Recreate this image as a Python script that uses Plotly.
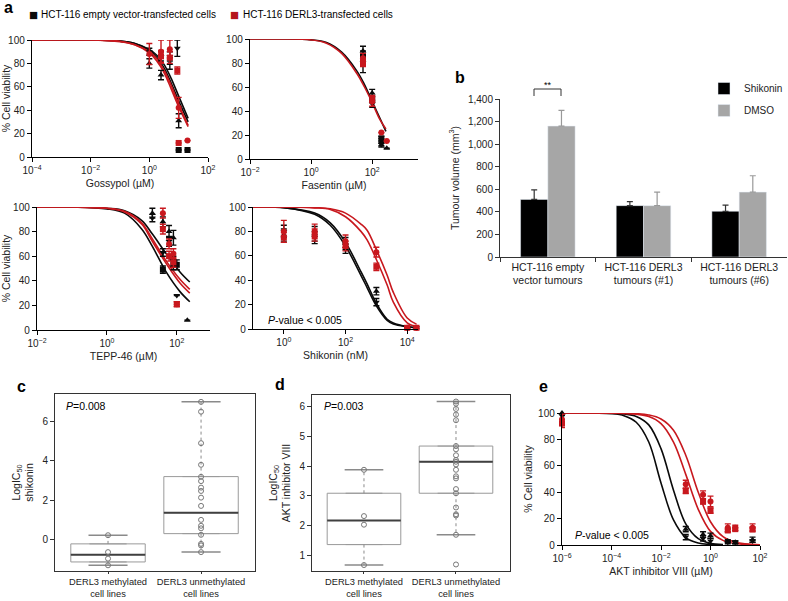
import plotly.graph_objects as go

W, H = 788, 601
RED = "#c8181e"
BLACK = "#0a0a0a"
GREY = "#a6a6a6"
FONT = "Arial, Liberation Sans, Helvetica, sans-serif"

BLACK_SYMS = ["triangle-up", "triangle-down", "square", "diamond"]
RED_SYMS = ["circle", "square", "triangle-up"]

# ---------- a: dose response, % cell viability (mean, s.d.) ----------
# Gossypol (uM)
goss_fit_x = [1e-4, 0.01, 0.1, 0.32, 1, 1.8, 3.2, 5.6, 10, 21]
goss_fit_black = [[100, 100, 99, 97, 92, 87, 79, 67, 52, 33],
                  [100, 100, 99, 97, 91, 85, 76, 63, 48, 30]]
goss_fit_red = [[100, 100, 99, 96, 90, 84, 74, 61, 45, 27],
                [100, 100, 98.5, 96, 89, 82, 72, 58, 43, 26]]
goss_black = [([1, 2.5, 5, 10], [80, 70, 80, 31], [4, 4, 5, 6]),
              ([1, 2.5, 5, 9], [90, 86, 86, 93], [3, 4, 4, 7]),
              ([10, 20], [6, 6], [0, 0])]
goss_red = [([1, 2.5, 5, 10, 20], [88, 90, 92, 42, 14], [9, 10, 8, 9, 0]),
            ([2.5, 5, 9, 10], [86, 85, 74, 12], [5, 5, 3, 0])]

# Fasentin (uM)
fas_fit_x = [0.01, 0.1, 1, 3.2, 10, 32, 56, 100, 178, 282]
fas_fit_black = [[100, 100, 99.3, 97, 89, 73, 62, 48, 34, 23]]
fas_fit_red = [[100, 100, 99.2, 96.5, 88, 71, 60, 47, 33, 25]]
fas_black = [([50, 100, 200, 300], [90, 55, 14, 9], [4, 3, 3, 0]),
             ([50, 100, 200], [80, 46, 12], [8, 3, 2]),
             ([50, 100, 200], [86, 50, 17], [4, 3, 2])]
fas_red = [([50, 100, 200, 300], [84, 48, 22, 15], [4, 4, 0, 0]),
           ([50, 100], [80, 50], [3, 3])]

# TEPP-46 (uM)
tepp_fit_x = [0.01, 0.1, 1, 3.2, 10, 20, 50, 125, 235]
tepp_fit_black = [[100, 100, 99, 97, 89, 78, 62, 47, 39],
                  [100, 100, 98.5, 95, 82, 68, 47, 31, 23]]
tepp_fit_red = [[100, 100, 99, 96, 86, 72, 54, 38, 30],
                [100, 100, 99, 96.5, 87, 74, 56, 41, 33]]
tepp_black = [([20, 40, 60, 80, 200], [95, 88, 80, 75, 8], [4, 4, 5, 6, 0]),
              ([20, 40, 60, 80, 100], [91, 63, 72, 56, 28], [3, 3, 4, 4, 0]),
              ([40, 80, 100], [49, 53, 53], [3, 4, 4])]
tepp_red = [([40, 60, 80, 100], [95, 70, 62, 21], [4, 4, 4, 2]),
            ([40, 60, 80, 100], [82, 60, 55, 21], [4, 4, 4, 2])]

# Shikonin (nM)
shik_fit_x = [0.1, 1, 10, 32, 100, 316, 500, 1000, 2240, 3550, 10000, 20000]
shik_fit_black = [[100, 99.5, 95, 87, 71, 47, 37, 21, 8, 5, 2, 1],
                  [100, 99.5, 94, 85, 68, 44, 34, 19, 7, 4, 1.8, 1]]
shik_fit_red = [[100, 100, 99.5, 98.5, 95, 86, 81, 65, 44, 30, 9, 4],
                [100, 100, 99.3, 98, 92, 80, 73, 57, 36, 22, 5, 2]]
shik_conc = [1, 10, 100, 1000, 10000, 20000]
shik_black = [(shik_conc, [77, 78, 70, 31, 1, 1], [5, 6, 5, 3, 1, 1]),
              (shik_conc, [80, 75, 66, 22, 1, 1], [5, 5, 4, 3, 1, 1])]
shik_red = [(shik_conc, [80, 80, 72, 63, 1, 1], [9, 6, 5, 4, 1, 1]),
            (shik_conc, [75, 77, 68, 51, 1, 1], [4, 5, 4, 3, 1, 1])]

# ---------- b: xenograft tumour volume (mm3) ----------
b_groups = ["HCT-116 empty<br>vector tumours", "HCT-116 DERL3<br>tumours (#1)",
            "HCT-116 DERL3<br>tumours (#6)"]
b_shikonin = [510, 455, 405]
b_shikonin_err = [85, 35, 55]
b_dmso = [1160, 455, 575]
b_dmso_err = [140, 120, 145]

# ---------- c / d: LogIC50 by DERL3 methylation ----------
box_labels = ["DERL3 methylated<br>cell lines", "DERL3 unmethylated<br>cell lines"]
c_meth = [0.22, -0.64, -0.97, -1.31]
c_unmeth = [7.0, 6.5, 4.9, 3.8, 3.19, 2.97, 2.64, 2.47, 2.13, 1.71, 1.0, 0.7,
            0.57, 0.24, -0.22, -0.3, -0.64]
c_q1, c_med, c_q3 = [-1.14, 0.3], [-0.77, 1.36], [-0.22, 3.2]
c_lo, c_hi = [-1.31, -0.64], [0.22, 7.0]

d_meth = [3.88, 2.32, 2.03, 0.67]
d_unmeth = [6.18, 6.11, 5.93, 5.74, 5.55, 4.68, 4.57, 4.37, 4.21, 4.15, 4.06,
            3.88, 3.66, 3.59, 3.23, 3.09, 2.61, 2.38, 2.34, 1.69, 0.69]
d_q1, d_med, d_q3 = [1.36, 3.09], [2.17, 4.15], [3.09, 4.68]
d_lo, d_hi = [0.67, 1.69], [3.88, 6.18]

# ---------- e: AKT inhibitor VIII (uM) ----------
akt_fit_x = [1e-6, 1e-4, 3.2e-4, 1e-3, 3.2e-3, 0.01, 0.032, 0.1, 0.32, 1, 3.2, 10, 100]
akt_fit_black = [[100, 99.5, 98, 93, 78, 47, 19, 5.6, 1.5, 0.4, 0.1],
                 [100, 99.8, 99.3, 97.4, 91, 73, 41.5, 16, 4.8, 1.3, 0.35]]
akt_fit_red = [[100, 99.9, 99.7, 99.1, 97.3, 92, 78, 53.5, 27, 10.3, 3.5, 1.1, 0.1],
               [100, 100, 99.8, 99.5, 98.5, 95.5, 87, 68, 40, 17.6, 6.3, 2.1, 0.2]]
akt_conc = [1e-6, 0.1, 0.5, 1, 5, 10, 50]
akt_black = [(akt_conc, [100, 12, 8, 7, 3, 2, 4], [2, 2, 2, 2, 1, 1, 2]),
             (akt_conc, [98, 6, 5, 3, 2, 2, 3], [6, 2, 2, 2, 1, 1, 1])]
akt_red = [(akt_conc, [95, 46, 38, 33, 13, 13, 13], [4, 3, 3, 4, 3, 2, 3]),
           (akt_conc, [92, 41, 33, 26, 11, 12, 12], [3, 2, 2, 2, 1, 1, 1])]

key_labels = ["HCT-116 empty vector-transfected cells", "HCT-116 DERL3-transfected cells"]


fig = go.Figure()


def ids(n):
    return ("x", "y") if n == 1 else (f"x{n}", f"y{n}")


def add_dose(n, fit_x, fit_black, fit_red, pts_black, pts_red):
    xa, ya = ids(n)
    for col, fits in [(BLACK, fit_black), (RED, fit_red)]:
        for ys in fits:
            fig.add_trace(go.Scatter(
                x=fit_x[:len(ys)], y=ys, mode="lines",
                line=dict(color=col, width=1.6, shape="spline", smoothing=1),
                xaxis=xa, yaxis=ya, cliponaxis=False, showlegend=False, hoverinfo="skip"))
    for col, syms, series in [(BLACK, BLACK_SYMS, pts_black), (RED, RED_SYMS, pts_red)]:
        for (x, y, e), s in zip(series, syms):
            fig.add_trace(go.Scatter(
                x=x, y=y, mode="markers",
                marker=dict(symbol=s, size=6, color=col),
                error_y=dict(type="data", array=e, color=col, thickness=1.4, width=3),
                xaxis=xa, yaxis=ya, cliponaxis=False, showlegend=False))


add_dose(1, goss_fit_x, goss_fit_black, goss_fit_red, goss_black, goss_red)
add_dose(2, fas_fit_x, fas_fit_black, fas_fit_red, fas_black, fas_red)
add_dose(3, tepp_fit_x, tepp_fit_black, tepp_fit_red, tepp_black, tepp_red)
add_dose(4, shik_fit_x, shik_fit_black, shik_fit_red, shik_black, shik_red)
add_dose(8, akt_fit_x, akt_fit_black, akt_fit_red, akt_black, akt_red)

# b: bars
fig.add_trace(go.Bar(x=b_groups, y=b_shikonin, name="Shikonin", marker_color="black",
                     error_y=dict(type="data", array=b_shikonin_err, arrayminus=[0] * 3,
                                  symmetric=False, color="#333", thickness=1.2, width=3),
                     xaxis="x5", yaxis="y5", legend="legend2", legendgroup="s"))
fig.add_trace(go.Bar(x=b_groups, y=b_dmso, name="DMSO", marker_color=GREY,
                     error_y=dict(type="data", array=b_dmso_err, arrayminus=[0] * 3,
                                  symmetric=False, color="#999", thickness=1.2, width=3),
                     xaxis="x5", yaxis="y5", legend="legend2", legendgroup="d"))


def add_boxes(n, groups, q1, med, q3, lo, hi):
    xa, ya = ids(n)
    pos = list(range(len(groups)))
    fig.add_trace(go.Box(x=pos, q1=q1, median=med, q3=q3, lowerfence=q1, upperfence=q3,
                         width=0.8, line=dict(color="#9a9a9a", width=1),
                         fillcolor="rgba(255,255,255,0)", boxpoints=False,
                         xaxis=xa, yaxis=ya, showlegend=False, hoverinfo="skip"))
    wx, wy, cx, cy, mx, my = [], [], [], [], [], []
    for i in pos:
        wx += [i, i, None, i, i, None]
        wy += [q3[i], hi[i], None, q1[i], lo[i], None]
        cx += [i - 0.21, i + 0.21, None, i - 0.21, i + 0.21, None]
        cy += [hi[i], hi[i], None, lo[i], lo[i], None]
        mx += [i - 0.4, i + 0.4, None]
        my += [med[i], med[i], None]
    fig.add_trace(go.Scatter(x=wx, y=wy, mode="lines", line=dict(color="#8a8a8a", width=1, dash="dot"),
                             xaxis=xa, yaxis=ya, showlegend=False, hoverinfo="skip"))
    fig.add_trace(go.Scatter(x=cx, y=cy, mode="lines", line=dict(color="#8a8a8a", width=1.5),
                             xaxis=xa, yaxis=ya, showlegend=False, hoverinfo="skip"))
    fig.add_trace(go.Scatter(x=mx, y=my, mode="lines", line=dict(color="#404040", width=2),
                             xaxis=xa, yaxis=ya, showlegend=False, hoverinfo="skip"))
    for i, vals in enumerate(groups):
        fig.add_trace(go.Scatter(x=[i] * len(vals), y=vals, mode="markers",
                                 marker=dict(symbol="circle-open", size=5, color="#777",
                                             line=dict(width=1)),
                                 xaxis=xa, yaxis=ya, showlegend=False, cliponaxis=False))


add_boxes(6, [c_meth, c_unmeth], c_q1, c_med, c_q3, c_lo, c_hi)
add_boxes(7, [d_meth, d_unmeth], d_q1, d_med, d_q3, d_lo, d_hi)


def sup(p):
    return "10<sup>%s</sup>" % str(p).replace("-", "\u2212")


base = dict(showline=True, linecolor="black", linewidth=1.4, ticks="outside", ticklen=4,
            tickwidth=1.4, tickcolor="black", showgrid=False, zeroline=False, automargin=False,
            tickangle=0, tickfont=dict(size=10, color="#222"))
axes = {}


def put(n, xd, yd, xkw, ykw, style=base):
    xk = "xaxis" if n == 1 else f"xaxis{n}"
    yk = "yaxis" if n == 1 else f"yaxis{n}"
    xid, yid = ids(n)
    axes[xk] = dict(style, domain=[xd[0] / W, xd[1] / W], anchor=yid, **xkw)
    axes[yk] = dict(style, domain=[1 - yd[1] / H, 1 - yd[0] / H], anchor=xid, **ykw)


def logx(rng, powers, title):
    return dict(type="log", range=rng, tickvals=[10.0 ** p for p in powers],
                ticktext=[sup(p) for p in powers],
                title=dict(text=title, font=dict(size=10.5), standoff=4))


def viab(title=True):
    d = dict(range=[0, 100], tickvals=[0, 20, 40, 60, 80, 100])
    if title:
        d["title"] = dict(text="% Cell viability", font=dict(size=10.5), standoff=3)
    return d


put(1, (32, 208), (40, 157), logx([-4, 2], [-4, -2, 0, 2], "Gossypol (\u00b5M)"), viab())
put(2, (250, 418), (39, 159), logx([-2, 3.5], [-2, 0, 2], "Fasentin (\u00b5M)"), viab(False))
put(3, (37, 210), (207, 330), logx([-2, 2.95], [-2, 0, 2], "TEPP-46 (\u00b5M)"), viab())
put(4, (253, 418), (207, 329), logx([-1, 4.35], [0, 2, 4], "Shikonin (nM)"), viab(False))
put(8, (562, 760), (413, 545), logx([-6, 2], [-6, -4, -2, 0, 2], "AKT inhibitor VIII (\u00b5M)"), viab())

thin = dict(base, linewidth=1, tickwidth=1, linecolor="#333", tickcolor="#333")
put(5, (500, 787), (99, 257),
    dict(type="category", tickson="boundaries", tickfont=dict(size=10.5, color="#222")),
    dict(range=[0, 1400], tickvals=list(range(0, 1401, 200)), tickformat=",",
         title=dict(text="Tumour volume (mm<sup>3</sup>)", font=dict(size=10.5), standoff=6)),
    style=thin)

boxstyle = dict(thin, mirror=True)
boxx = dict(tickvals=[0, 1], ticktext=box_labels, ticklen=2, tickfont=dict(size=9.3, color="#222"))
put(6, (55, 255), (394, 571),
    dict(boxx, range=[-0.57, 1.58]),
    dict(range=[-1.6, 7.4], tickvals=[0, 2, 4, 6],
         title=dict(text="LogIC<sub>50</sub><br>shikonin", font=dict(size=10.5), standoff=6)),
    style=boxstyle)
put(7, (312, 510), (395, 571),
    dict(boxx, range=[-0.565, 1.587]),
    dict(range=[0.47, 6.4], tickvals=[1, 2, 3, 4, 5, 6],
         title=dict(text="LogIC<sub>50</sub><br>AKT inhibitor VIII", font=dict(size=10.5), standoff=6)),
    style=boxstyle)


def note(text, x, y, size=10.5, xanchor="left", bold=False, color="black"):
    return dict(text=f"<b>{text}</b>" if bold else text, x=x / W, y=1 - y / H,
                xref="paper", yref="paper", xanchor=xanchor, yanchor="middle",
                showarrow=False, font=dict(size=size, color=color))


annotations = [
    note("a", 2, 8, 16, bold=True), note("b", 453, 77, 16, bold=True),
    note("c", 15, 386, 16, bold=True), note("d", 273, 384, 16, bold=True),
    note("e", 537, 386, 16, bold=True),
    note("<i>P</i>=0.008", 64, 406), note("<i>P</i>=0.003", 322, 406),
    note("<i>P</i>-value &lt; 0.005", 266, 320), note("<i>P</i>-value &lt; 0.005", 573, 535),
    note("**", 547.5, 85, 9, xanchor="center"),
]
# colour key above panel a
for (sx, col), label in zip([(33, BLACK), (235, "#b5161c")], key_labels):
    annotations.append(note("\u25a0", sx, 15, 15, xanchor="center", color=col))
    annotations.append(note(label, sx + 6, 15, 10))

shapes = [dict(type="path", xref="paper", yref="paper",
               path="M %f,%f L %f,%f L %f,%f L %f,%f" % (534 / W, 1 - 96 / H, 534 / W, 1 - 89 / H,
                                                       561 / W, 1 - 89 / H, 561 / W, 1 - 96 / H),
               line=dict(color="#333", width=1))]

fig.update_layout(
    width=W, height=H, margin=dict(l=0, r=0, t=0, b=0),
    paper_bgcolor="white", plot_bgcolor="white",
    font=dict(family=FONT, size=10.5, color="#222"),
    bargap=0.43, bargroupgap=0, barmode="group",
    legend2=dict(x=1, y=1 - 74 / H, xanchor="right", yanchor="top",
                 font=dict(size=10), bgcolor="rgba(0,0,0,0)", tracegroupgap=3),
    annotations=annotations, shapes=shapes,
    **axes,
)

# page has a default 8px body margin; drop it so the 788x601 figure fills the window
fig.write_html("out.html", config={"displayModeBar": False},
               post_script="document.body.style.margin='0';")
